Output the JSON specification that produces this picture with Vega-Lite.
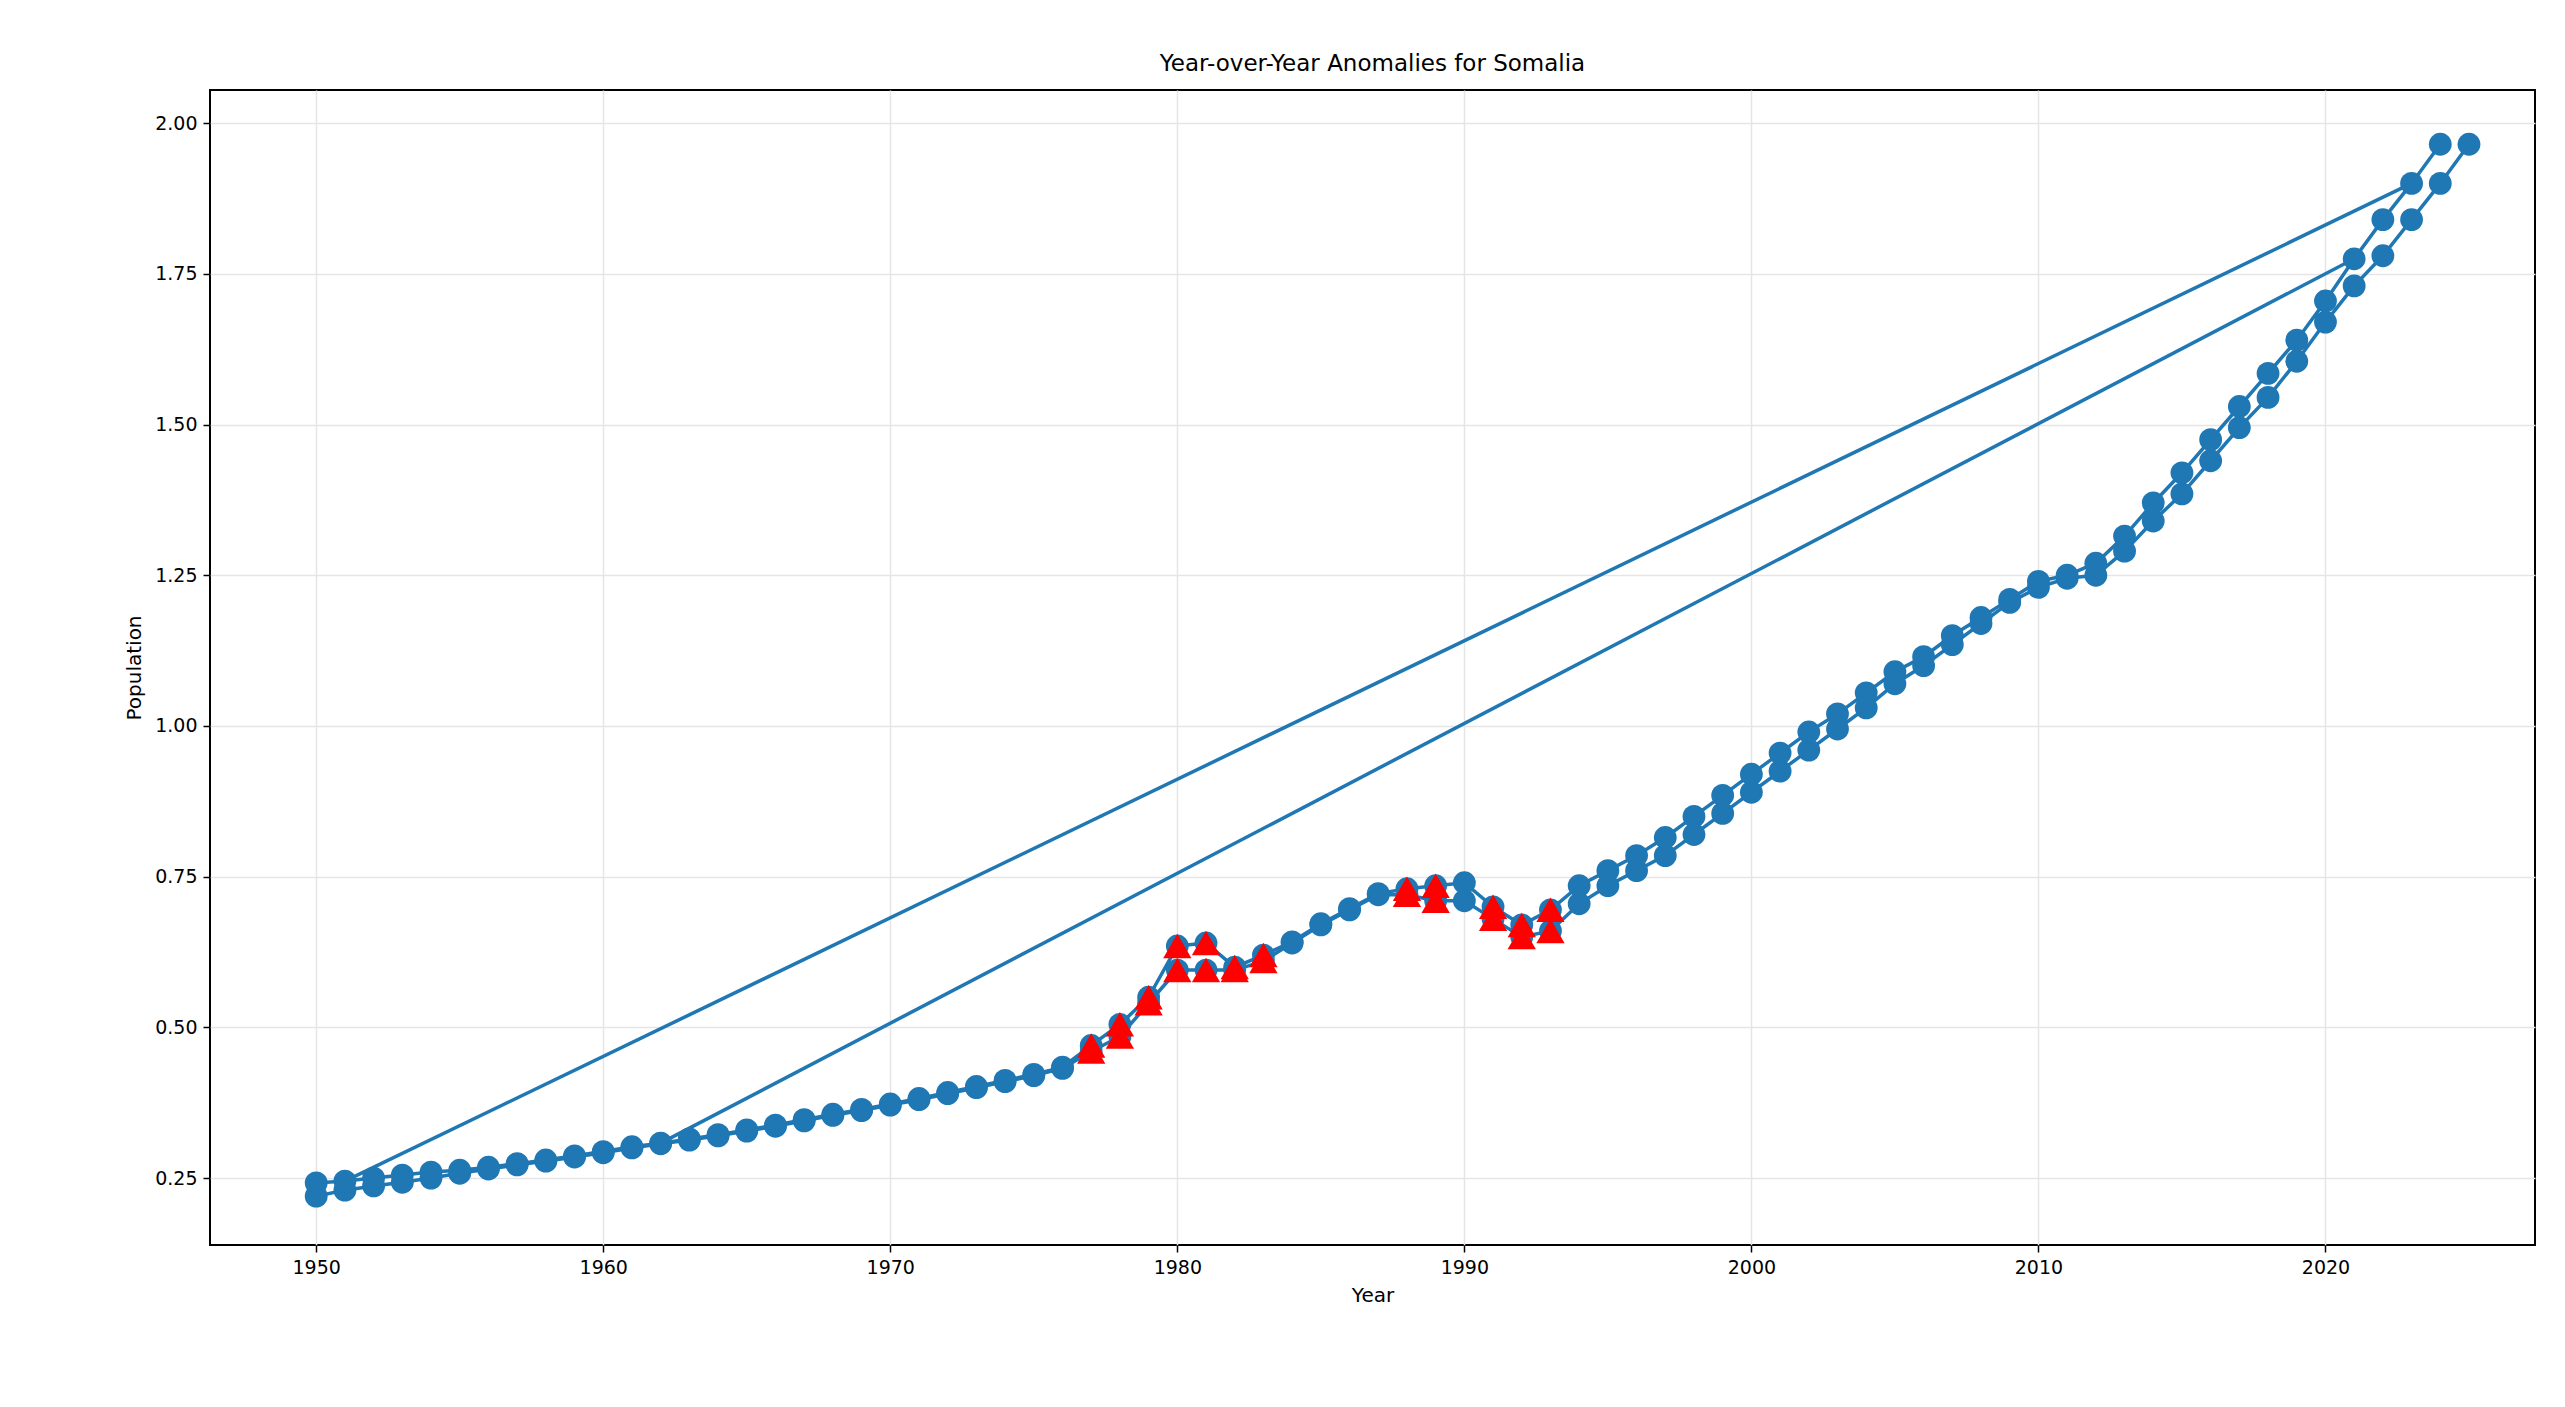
{
"$schema":"https://vega.github.io/schema/vega-lite/v6.json",
"width":2325,"height":1155,
"padding":{"left":210,"top":90,"right":30,"bottom":162},
"autosize":{"type":"none"},
"config":{"font":"DejaVu Sans","view":{"stroke":"black","strokeWidth":2},
 "axis":{"labelFontSize":19,"titleFontSize":20,"titleFontWeight":"normal","labelColor":"black","titleColor":"black","domain":false,"tickColor":"black","tickSize":7,"tickWidth":1.5,"gridColor":"#e5e5e5","gridWidth":1.5}},
"title":{"text":"Year-over-Year Anomalies for Somalia","fontSize":23,"fontWeight":"normal","offset":14},
"datasets":{
"lo":[
{"year":1950,"pop":2.2},{"year":1951,"pop":2.3},{"year":1952,"pop":2.37},{"year":1953,"pop":2.43},{"year":1954,"pop":2.5},{"year":1955,"pop":2.58},{"year":1956,"pop":2.65},{"year":1957,"pop":2.72},{"year":1958,"pop":2.78},{"year":1959,"pop":2.85},{"year":1960,"pop":2.92},{"year":1961,"pop":3.0},{"year":1962,"pop":3.07},{"year":1963,"pop":3.13},{"year":1964,"pop":3.2},{"year":1965,"pop":3.28},{"year":1966,"pop":3.36},{"year":1967,"pop":3.45},{"year":1968,"pop":3.54},{"year":1969,"pop":3.62},{"year":1970,"pop":3.71},{"year":1971,"pop":3.8},{"year":1972,"pop":3.9},{"year":1973,"pop":4.0},{"year":1974,"pop":4.1},{"year":1975,"pop":4.2},{"year":1976,"pop":4.32},{"year":1977,"pop":4.6,"a":1},{"year":1978,"pop":4.85,"a":1},{"year":1979,"pop":5.4,"a":1},{"year":1980,"pop":5.95,"a":1},{"year":1981,"pop":5.95,"a":1},{"year":1982,"pop":5.95,"a":1},{"year":1983,"pop":6.1,"a":1},{"year":1984,"pop":6.4},{"year":1985,"pop":6.7},{"year":1986,"pop":6.95},{"year":1987,"pop":7.2},{"year":1988,"pop":7.2,"a":1},{"year":1989,"pop":7.1,"a":1},{"year":1990,"pop":7.1},{"year":1991,"pop":6.8,"a":1},{"year":1992,"pop":6.5,"a":1},{"year":1993,"pop":6.6,"a":1},{"year":1994,"pop":7.05},{"year":1995,"pop":7.35},{"year":1996,"pop":7.6},{"year":1997,"pop":7.85},{"year":1998,"pop":8.2},{"year":1999,"pop":8.55},{"year":2000,"pop":8.9},{"year":2001,"pop":9.25},{"year":2002,"pop":9.6},{"year":2003,"pop":9.95},{"year":2004,"pop":10.3},{"year":2005,"pop":10.7},{"year":2006,"pop":11.0},{"year":2007,"pop":11.35},{"year":2008,"pop":11.7},{"year":2009,"pop":12.05},{"year":2010,"pop":12.3},{"year":2011,"pop":12.45},{"year":2012,"pop":12.5},{"year":2013,"pop":12.9},{"year":2014,"pop":13.4},{"year":2015,"pop":13.85},{"year":2016,"pop":14.4},{"year":2017,"pop":14.95},{"year":2018,"pop":15.45},{"year":2019,"pop":16.05},{"year":2020,"pop":16.7},{"year":2021,"pop":17.3},{"year":2022,"pop":17.8},{"year":2023,"pop":18.4},{"year":2024,"pop":19.0},{"year":2025,"pop":19.65}],
"up":[
{"year":1950,"pop":2.42},{"year":1951,"pop":2.45},{"year":1952,"pop":2.5},{"year":1953,"pop":2.55},{"year":1954,"pop":2.6},{"year":1955,"pop":2.63},{"year":1956,"pop":2.68},{"year":1957,"pop":2.74},{"year":1958,"pop":2.8},{"year":1959,"pop":2.87},{"year":1960,"pop":2.94},{"year":1961,"pop":3.02},
{"year":1962,"pop":3.08},{"year":1963,"pop":3.15},{"year":1964,"pop":3.22},{"year":1965,"pop":3.3},{"year":1966,"pop":3.38},{"year":1967,"pop":3.47},{"year":1968,"pop":3.56},{"year":1969,"pop":3.64},{"year":1970,"pop":3.73},{"year":1971,"pop":3.82},{"year":1972,"pop":3.92},{"year":1973,"pop":4.02},{"year":1974,"pop":4.12},{"year":1975,"pop":4.22},{"year":1976,"pop":4.34},{"year":1977,"pop":4.7,"a":1},{"year":1978,"pop":5.05,"a":1},{"year":1979,"pop":5.5,"a":1},{"year":1980,"pop":6.35,"a":1},{"year":1981,"pop":6.4,"a":1},{"year":1982,"pop":6.0,"a":1},{"year":1983,"pop":6.2,"a":1},{"year":1984,"pop":6.42},{"year":1985,"pop":6.72},{"year":1986,"pop":6.97},{"year":1987,"pop":7.22},{"year":1988,"pop":7.3,"a":1},{"year":1989,"pop":7.35,"a":1},{"year":1990,"pop":7.4},{"year":1991,"pop":7.0,"a":1},{"year":1992,"pop":6.7,"a":1},{"year":1993,"pop":6.95,"a":1},{"year":1994,"pop":7.35},{"year":1995,"pop":7.6},{"year":1996,"pop":7.85},{"year":1997,"pop":8.15},{"year":1998,"pop":8.5},{"year":1999,"pop":8.85},{"year":2000,"pop":9.2},{"year":2001,"pop":9.55},{"year":2002,"pop":9.9},{"year":2003,"pop":10.2},{"year":2004,"pop":10.55},{"year":2005,"pop":10.9},{"year":2006,"pop":11.15},{"year":2007,"pop":11.5},{"year":2008,"pop":11.8},{"year":2009,"pop":12.1},{"year":2010,"pop":12.4},{"year":2011,"pop":12.5},{"year":2012,"pop":12.7},{"year":2013,"pop":13.15},{"year":2014,"pop":13.7},{"year":2015,"pop":14.2},{"year":2016,"pop":14.75},{"year":2017,"pop":15.3},{"year":2018,"pop":15.85},{"year":2019,"pop":16.4},{"year":2020,"pop":17.05},{"year":2021,"pop":17.75},{"year":2022,"pop":18.4},{"year":2023,"pop":19.0},{"year":2024,"pop":19.65}],
"diag":[
{"seg":"d1","year":1951,"pop":2.45},{"seg":"d1","year":2023,"pop":19.0},
{"seg":"d2","year":1962,"pop":3.08},{"seg":"d2","year":2021,"pop":17.75}]
},
"encoding":{
 "x":{"field":"year","type":"quantitative","scale":{"domain":[1946.3,2027.3],"nice":false,"zero":false},"axis":{"title":"Year","values":[1950,1960,1970,1980,1990,2000,2010,2020],"format":"d","labelPadding":6,"titlePadding":8}},
 "y":{"field":"pop","type":"quantitative","scale":{"domain":[1.39,20.55],"nice":false,"zero":false},"axis":{"title":"Population","values":[2.5,5,7.5,10,12.5,15,17.5,20],"labelExpr":"format(datum.value/10,'.2f')","labelPadding":6,"titlePadding":10}}
},
"layer":[
 {"data":{"name":"diag"},"mark":{"type":"line","color":"#1f77b4","strokeWidth":3.5},"encoding":{"detail":{"field":"seg"}}},
 {"data":{"name":"lo"},"mark":{"type":"line","color":"#1f77b4","strokeWidth":3.5},"encoding":{}},
 {"data":{"name":"up"},"mark":{"type":"line","color":"#1f77b4","strokeWidth":3.5},"encoding":{}},
 {"data":{"name":"lo"},"mark":{"type":"point","filled":true,"opacity":1,"color":"#1f77b4","size":520,"shape":"circle"},"encoding":{}},
 {"data":{"name":"up"},"mark":{"type":"point","filled":true,"opacity":1,"color":"#1f77b4","size":520,"shape":"circle"},"encoding":{}},
 {"data":{"name":"lo"},"transform":[{"filter":"datum.a==1"}],"mark":{"type":"point","filled":true,"opacity":1,"color":"red","size":800,"shape":"triangle-up"},"encoding":{}},
 {"data":{"name":"up"},"transform":[{"filter":"datum.a==1"},{"calculate":"'YoY Anomaly'","as":"k"}],"mark":{"type":"point","filled":true,"opacity":1,"size":800},
  "encoding":{"shape":{"field":"k","type":"nominal","scale":{"domain":["Population","YoY Anomaly"],"range":["circle","triangle-up"]},"legend":{"title":null,"orient":"top-left","offset":20,"labelFontSize":20,"symbolSize":450,"symbolStrokeWidth":0,"strokeColor":"#cccccc","padding":14,"cornerRadius":4,"fillColor":"white","rowPadding":14,"labelOffset":20}},
   "color":{"field":"k","type":"nominal","scale":{"domain":["Population","YoY Anomaly"],"range":["#1f77b4","red"]},"legend":null}}},
 {"data":{"values":[{"t":"1e7"}]},"mark":{"type":"text","fontSize":19,"align":"left","baseline":"bottom","dy":-6},"encoding":{"text":{"field":"t"},"x":{"datum":1946.3},"y":{"datum":20.55}}}
]
}
